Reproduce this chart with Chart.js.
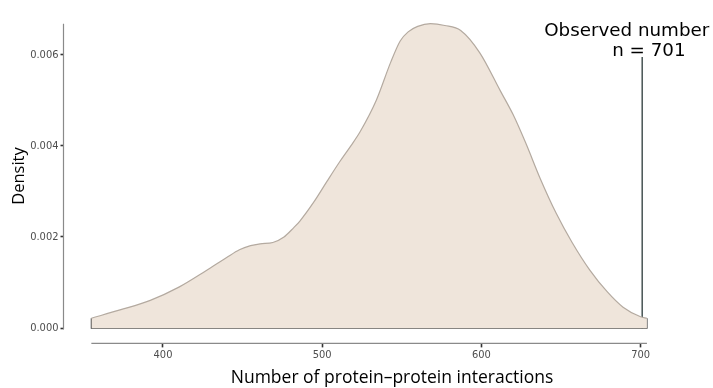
<!DOCTYPE html>
<html>
<head>
<meta charset="utf-8">
<script src="https://cdn.jsdelivr.net/npm/chart.js@4.4.1/dist/chart.umd.min.js"></script>
<style>
  html, body { margin: 0; padding: 0; background: #fff; }
  #wrap { width: 713px; height: 388px; }
</style>
</head>
<body>
<div id="wrap"><canvas id="chart" width="713" height="388"></canvas></div>
<script>
// values
const xValues = [355, 373, 392, 410, 427, 440, 448, 455, 461, 469, 476, 482, 486, 495, 503, 511, 518, 524, 534, 543, 549, 554, 560, 568, 577, 587, 599, 612, 620, 628, 637, 647, 657, 668, 679, 689, 700, 704];
const densityValues = [0.000217, 0.00040, 0.00061, 0.00090, 0.00126, 0.00155, 0.00172, 0.00181, 0.00185, 0.00188, 0.00200, 0.00220, 0.00235, 0.00278, 0.00322, 0.00365, 0.00400, 0.00432, 0.00500, 0.00583, 0.00630, 0.00650, 0.00662, 0.00668, 0.00664, 0.00653, 0.00604, 0.00520, 0.00468, 0.00405, 0.00328, 0.00252, 0.00188, 0.00128, 0.00080, 0.00046, 0.00025, 0.000217];
const xTicks = [400, 500, 600, 700];
const yTicks = [0, 0.002, 0.004, 0.006];
const observedValue = 701;
const observedTop = 0.00595;
const observedLabel = ['Observed number', 'n = 701'];
const xTitle = 'Number of protein\u2013protein interactions';
const yTitle = 'Density';

const xMin = xValues[0];
const xMax = xValues[xValues.length - 1];
const dMax = Math.max(...densityValues);

const tickFont = { family: "'Liberation Sans Narrow', 'DejaVu Sans Condensed', 'Open Sans'", size: 11 };

// capped axis lines, titles and the annotation text
const extras = {
  id: 'extras',
  beforeDatasetsDraw(chart) {
    const { ctx, chartArea, scales } = chart;
    const x = scales.x, y = scales.y;
    ctx.save();
    ctx.strokeStyle = '#8a8a8a';
    ctx.lineWidth = 1.2;
    ctx.beginPath();
    ctx.moveTo(chartArea.left, y.getPixelForValue(0) + 1);
    ctx.lineTo(chartArea.left, y.getPixelForValue(dMax));
    ctx.moveTo(x.getPixelForValue(xMin), chartArea.bottom);
    ctx.lineTo(x.getPixelForValue(xMax), chartArea.bottom);
    ctx.stroke();
    ctx.restore();
  },
  afterDraw(chart) {
    const { ctx, scales } = chart;
    const x = scales.x, y = scales.y;
    ctx.save();
    ctx.fillStyle = '#000';
    ctx.font = "17.5px 'Open Sans'";
    ctx.textAlign = 'center';
    ctx.textBaseline = 'alphabetic';
    ctx.fillText(xTitle, 392, 383);

    const lx = x.getPixelForValue(observedValue);
    const top = y.getPixelForValue(observedTop);
    ctx.font = "18.3px 'DejaVu Sans'";
    ctx.textAlign = 'left';
    ctx.fillText(observedLabel[0], lx - 98, top - 21);
    ctx.fillText(observedLabel[1], lx - 30, top - 1);
    ctx.restore();
  }
};

new Chart(document.getElementById('chart'), {
  type: 'line',
  data: {
    datasets: [
      {
        data: xValues.map((v, i) => ({ x: v, y: densityValues[i] })),
        fill: 'origin',
        backgroundColor: '#efe5db',
        borderColor: '#b4aaa0',
        borderWidth: 1.2,
        pointRadius: 0,
        cubicInterpolationMode: 'monotone'
      },
      {
        // baseline and end edges of the density polygon
        data: [
          { x: xMin, y: densityValues[0] }, { x: xMin, y: 0 },
          { x: xMax, y: 0 }, { x: xMax, y: densityValues[densityValues.length - 1] }
        ],
        fill: false,
        borderColor: '#333',
        borderWidth: 1.2,
        pointRadius: 0,
        tension: 0
      },
      {
        data: [{ x: observedValue, y: 0 }, { x: observedValue, y: observedTop }],
        fill: false,
        borderColor: '#1a2a2a',
        borderWidth: 1.2,
        pointRadius: 0,
        tension: 0
      }
    ]
  },
  options: {
    responsive: false,
    animation: false,
    layout: { padding: { top: 5.5, right: 38.2, left: 0, bottom: 0 } },
    plugins: { legend: { display: false }, tooltip: { enabled: false } },
    scales: {
      x: {
        type: 'linear',
        min: 337.5,
        max: 721.5,
        afterFit(scale) { scale.height = 44.6; },
        afterBuildTicks(scale) { scale.ticks = xTicks.map(v => ({ value: v })); },
        border: { display: false },
        grid: { drawOnChartArea: false, drawTicks: true, tickLength: 4, tickColor: '#333', tickWidth: 1.6 },
        ticks: { font: tickFont, color: '#4d4d4d', padding: 1, maxRotation: 0, autoSkip: false }
      },
      y: {
        min: -0.000334,
        max: 0.00701,
        afterFit(scale) { scale.width = 63.5; },
        afterBuildTicks(scale) { scale.ticks = yTicks.map(v => ({ value: v })); },
        border: { display: false },
        grid: { drawOnChartArea: false, drawTicks: true, tickLength: 3, tickColor: '#333', tickWidth: 1.6 },
        ticks: { font: tickFont, color: '#4d4d4d', padding: 2, callback: v => v.toFixed(3) },
        title: { display: true, text: yTitle, color: '#000', font: { family: "'Open Sans'", size: 16.5 }, padding: { top: 9, bottom: 0 } }
      }
    }
  },
  plugins: [extras]
});
</script>
</body>
</html>
